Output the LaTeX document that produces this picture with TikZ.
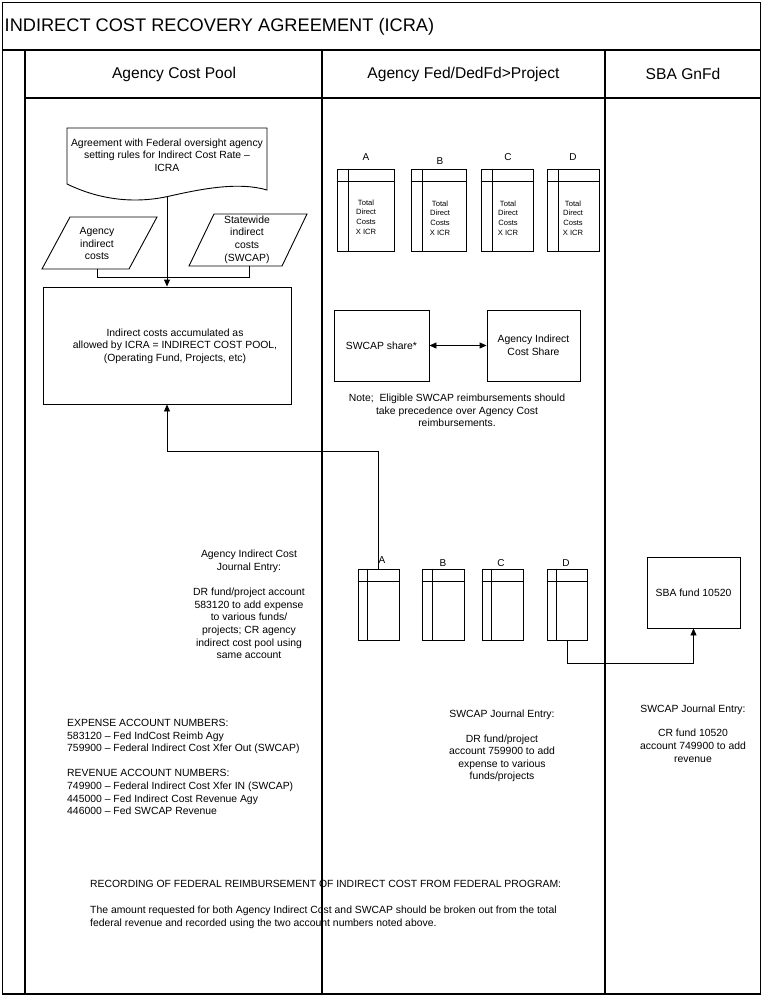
\documentclass[tikz,border=0pt]{standalone}
\usepackage{fontspec}
\setmainfont{Liberation Sans}
\usetikzlibrary{arrows.meta,calc}
\newcommand\ledgerlines[3]{%
  \draw[ln] ($(#1.north west)+(#2,0)$) -- ($(#1.south west)+(#2,0)$);
  \draw[ln] ($(#1.north west)+(0,#3)$) -- ($(#1.north east)+(0,#3)$);}
\begin{document}
\begin{tikzpicture}[x=1pt,y=-1pt,
  ln/.style={line width=0.9pt},
  frame/.style={line width=1.1pt},
  smalltext/.style={font=\fontsize{10.4}{12.6}\selectfont, align=center, inner sep=0},
  tinytext/.style={font=\fontsize{7.6}{9.8}\selectfont, align=center, inner sep=0},
  lbl/.style={font=\fontsize{10}{12}\selectfont, inner sep=0},
  hdr/.style={font=\fontsize{15.6}{18}\selectfont, inner sep=0},
  boxn/.style={draw, line width=0.9pt, inner sep=0, align=center, font=\fontsize{10.4}{12.6}\selectfont},
  ledger/.style={draw, line width=0.9pt, inner sep=0},
  arr/.style={ln, -{Triangle[length=7pt,width=6pt]}},
  darr/.style={ln, {Triangle[length=7pt,width=6pt]}-{Triangle[length=7pt,width=6pt]}},
]
\useasboundingbox (0,0) rectangle (763,998);
% frame
\draw[frame] (2.5,2.5) rectangle (760.5,994);
\draw[line width=2pt] (2.5,50) -- (760.5,50);
\draw[frame] (25,50) -- (25,994);
\draw[frame] (25,98) -- (760.5,98);
\draw[frame] (322,50) -- (322,994);
\draw[frame] (605,50) -- (605,994);
\node[anchor=west, font=\fontsize{18.2}{22}\selectfont, inner sep=0] (title) at (4.5,27) {INDIRECT COST RECOVERY AGREEMENT (ICRA)};
\node[hdr] (h1) at (174,74) {Agency Cost Pool};
\node[hdr] (h2) at (463.5,74) {Agency Fed/DedFd>Project};
\node[hdr] (h3) at (683,74) {SBA GnFd};
% document shape
\draw[ln] (67,128) -- (267,128) -- (267,190) .. controls (240,182) and (205,188) .. (170,196) .. controls (135,204) and (100,200) .. (67,184) -- cycle;
\node[smalltext] (doc) at (167,155) {Agreement with Federal oversight agency\\setting rules for Indirect Cost Rate –\\ICRA};
\coordinate (docb) at (167,196.5);
% parallelograms
\draw[ln] (70,217) -- (157,217) -- (129,269) -- (42,269) -- cycle;
\node[smalltext] (agc) at (97,243.5) {Agency\\indirect\\costs};
\coordinate (agcb) at (97,269);
\draw[ln] (214,214) -- (307,214) -- (282,266) -- (189,266) -- cycle;
\node[smalltext] (swc) at (247,239.5) {Statewide\\indirect\\costs\\(SWCAP)};
\coordinate (swcb) at (249,266);
% pool
\node[boxn, minimum width=248, minimum height=117] (pool) at (167,345.5) {};
\node[smalltext] (pooltxt) at (175,346) {Indirect costs accumulated as\\allowed by ICRA = INDIRECT COST POOL,\\(Operating Fund, Projects, etc)};
\coordinate (j1) at (167,277);
\draw[ln] (docb) -- (j1);
\draw[ln] (agcb) |- (j1);
\draw[ln] (swcb) |- (j1);
\draw[arr] (j1) -- (pool.north);
% top ledgers
\node[ledger, minimum width=57, minimum height=82] (tA) at (365.5,210) {};
\node[ledger, minimum width=55, minimum height=82] (tB) at (438.5,210) {};
\node[ledger, minimum width=52, minimum height=82] (tC) at (507,210) {};
\node[ledger, minimum width=52, minimum height=82] (tD) at (573,210) {};
\ledgerlines{tA}{12}{12.5}
\ledgerlines{tB}{11.5}{12.5}
\ledgerlines{tC}{11.5}{12.5}
\ledgerlines{tD}{11.5}{12.5}
\node[lbl] (ltA) at (366,157) {A};
\node[lbl] (ltB) at (440,161) {B};
\node[lbl] (ltC) at (508,157) {C};
\node[lbl] (ltD) at (573,157) {D};
\node[tinytext] (xA) at (366,217) {Total\\Direct\\Costs\\X ICR};
\node[tinytext] (xB) at (440,218) {Total\\Direct\\Costs\\X ICR};
\node[tinytext] (xC) at (508,218) {Total\\Direct\\Costs\\X ICR};
\node[tinytext] (xD) at (573,218) {Total\\Direct\\Costs\\X ICR};
% shares
\node[boxn, minimum width=95, minimum height=71] (swsh) at (381.5,345.5) {SWCAP share*};
\node[boxn, minimum width=93, minimum height=71] (aish) at (533.5,345.5) {Agency Indirect\\Cost Share};
\draw[darr] (swsh) -- (aish);
\node[smalltext] (note) at (457,410.5) {Note;\ \ Eligible SWCAP reimbursements should\\take precedence over Agency Cost\\reimbursements.};
% bottom ledgers
\node[ledger, minimum width=41, minimum height=71] (bA) at (378.5,604.5) {};
\node[ledger, minimum width=42, minimum height=71] (bB) at (443,604.5) {};
\node[ledger, minimum width=41, minimum height=71] (bC) at (502.5,604.5) {};
\node[ledger, minimum width=40, minimum height=71] (bD) at (567,604.5) {};
\ledgerlines{bA}{10}{12.5}
\ledgerlines{bB}{11}{12.5}
\ledgerlines{bC}{10}{12.5}
\ledgerlines{bD}{10}{12.5}
\node[lbl] (lbA) at (382,560) {A};
\node[lbl] (lbB) at (443,563) {B};
\node[lbl] (lbC) at (501,563) {C};
\node[lbl] (lbD) at (566,563) {D};
\node[boxn, minimum width=93, minimum height=71] (sba) at (693.5,592.5) {SBA fund 10520};
\coordinate (c1) at (378.5,451);
\draw[arr] (bA.north) -- (c1) -| (pool.south);
\coordinate (c2) at (567,663);
\draw[arr] (bD.south) -- (c2) -| (sba.south);
% texts
\node[smalltext] (je1) at (249,604.5) {Agency Indirect Cost\\Journal Entry:\\[12.6pt]DR fund/project account\\583120 to add expense\\to various funds/\\projects; CR agency\\indirect cost pool using\\same account};
\node[smalltext, align=left, anchor=west] (acct) at (67,767) {EXPENSE ACCOUNT NUMBERS:\\583120 – Fed IndCost Reimb Agy\\759900 – Federal Indirect Cost Xfer Out (SWCAP)\\[12.6pt]REVENUE ACCOUNT NUMBERS:\\749900 – Federal Indirect Cost Xfer IN (SWCAP)\\445000 – Fed Indirect Cost Revenue Agy\\446000 – Fed SWCAP Revenue};
\node[smalltext] (je2) at (502,746) {SWCAP Journal Entry:\\[12pt]DR fund/project\\account 759900 to add\\expense to various\\funds/projects};
\node[smalltext] (je3) at (693,733.5) {SWCAP Journal Entry:\\[12pt]CR fund 10520\\account 749900 to add\\revenue};
\node[smalltext, align=left, anchor=west] (rec) at (90,904.5) {RECORDING OF FEDERAL REIMBURSEMENT OF INDIRECT COST FROM FEDERAL PROGRAM:\\[13pt]The amount requested for both Agency Indirect Cost and SWCAP should be broken out from the total\\federal revenue and recorded using the two account numbers noted above.};
\end{tikzpicture}
\end{document}
